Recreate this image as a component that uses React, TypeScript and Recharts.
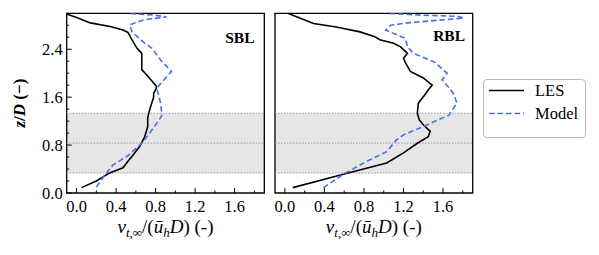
import React from 'react';
import { ScatterChart, Scatter, XAxis, YAxis, ReferenceArea, ReferenceLine } from 'recharts';

// ---- data (z/D heights and nu values) ----
const zLesSBL = [0.09, 0.2, 0.34, 0.42, 0.53, 0.61, 0.78, 0.94, 1.11, 1.25, 1.33, 1.39, 1.5, 1.6, 1.67, 1.72, 1.78, 1.97, 2.06, 2.17, 2.33, 2.42, 2.56, 2.68, 2.72, 2.78, 2.84, 2.93, 2.99];
const vLesSBL = [0.05, 0.2, 0.34, 0.47, 0.52, 0.56, 0.64, 0.69, 0.72, 0.72, 0.73, 0.74, 0.76, 0.78, 0.78, 0.8, 0.81, 0.71, 0.66, 0.66, 0.66, 0.61, 0.56, 0.52, 0.47, 0.34, 0.14, 0.0, -0.1];

const zModSBL = [0.1, 0.31, 0.47, 0.61, 0.83, 1.0, 1.28, 1.36, 1.5, 1.64, 1.75, 2.03, 2.22, 2.42, 2.5, 2.69, 2.81, 2.89, 2.94, 2.97, 3.0];
const vModSBL = [0.2, 0.29, 0.37, 0.51, 0.66, 0.74, 0.86, 0.86, 0.85, 0.83, 0.81, 0.96, 0.85, 0.76, 0.69, 0.56, 0.54, 0.68, 0.91, 0.78, 0.52];

const zLesRBL = [0.09, 0.33, 0.5, 0.67, 0.83, 0.94, 1.03, 1.14, 1.22, 1.33, 1.5, 1.65, 1.72, 1.8, 1.92, 2.03, 2.17, 2.25, 2.33, 2.44, 2.5, 2.56, 2.61, 2.69, 2.77, 2.83, 2.92, 3.0];
const vLesRBL = [0.08, 0.63, 1.03, 1.2, 1.34, 1.45, 1.47, 1.4, 1.36, 1.34, 1.35, 1.42, 1.45, 1.49, 1.4, 1.27, 1.22, 1.2, 1.24, 1.17, 1.1, 0.96, 0.91, 0.76, 0.52, 0.29, 0.15, 0.03];

const zModRBL = [0.09, 0.33, 0.53, 0.69, 0.89, 0.97, 1.11, 1.3, 1.5, 1.64, 1.72, 1.89, 2.0, 2.19, 2.33, 2.44, 2.58, 2.72, 2.8, 2.84, 2.92, 2.95, 2.97, 3.0];
const vModRBL = [0.39, 0.61, 0.83, 1.03, 1.13, 1.2, 1.4, 1.66, 1.74, 1.71, 1.68, 1.59, 1.64, 1.51, 1.3, 1.24, 1.22, 1.02, 1.07, 1.24, 1.81, 1.75, 1.37, 1.05];

const xTicks = [0, 0.2, 0.4, 0.6, 0.8, 1.0, 1.2, 1.4, 1.6, 1.8];
const xMajor = [0, 0.4, 0.8, 1.2, 1.6];
const yTicks = [0, 0.2, 0.4, 0.6, 0.8, 1.0, 1.2, 1.4, 1.6, 1.8, 2.0, 2.2, 2.4, 2.6, 2.8, 3.0];
const yMajor = [0, 0.8, 1.6, 2.4];
const rotorBottom = 0.333;
const hubHeight = 0.833;
const rotorTop = 1.333;
const xDomain: [number, number] = [-0.1, 1.9];
const yDomain: [number, number] = [0, 3.0];

const FONT = '"Liberation Serif", "Times New Roman", serif';
const BLUE = '#4a6fe3';

const toPts = (z: number[], v: number[]) => z.map((zz, i) => ({ v: v[i], z: zz }));

const isMajor = (val: number, majors: number[]) => majors.some((m) => Math.abs(m - val) < 1e-6);
const MAJ = 5;
const MIN = 2.5;

const BottomTick = (showLabels: boolean) => (props: any) => {
  const { x, y, payload } = props;
  const major = isMajor(payload.value, xMajor);
  return (
    <g>
      <line x1={x} x2={x} y1={y} y2={y - (major ? MAJ : MIN)} stroke="#000" strokeWidth={1} />
      {showLabels && major && (
        <text x={x} y={y + 19} textAnchor="middle" fontSize={16.5} fontFamily={FONT} fill="#000">
          {payload.value.toFixed(1)}
        </text>
      )}
    </g>
  );
};
const TopTick = (props: any) => {
  const { x, y, payload } = props;
  const major = isMajor(payload.value, xMajor);
  return <line x1={x} x2={x} y1={y} y2={y + (major ? MAJ : MIN)} stroke="#000" strokeWidth={1} />;
};
const LeftTick = (showLabels: boolean) => (props: any) => {
  const { x, y, payload } = props;
  const major = isMajor(payload.value, yMajor);
  return (
    <g>
      <line x1={x} x2={x + (major ? MAJ : MIN)} y1={y} y2={y} stroke="#000" strokeWidth={1} />
      {showLabels && major && (
        <text x={x - 4} y={y + 5.5} textAnchor="end" fontSize={16.5} fontFamily={FONT} fill="#000">
          {payload.value.toFixed(1)}
        </text>
      )}
    </g>
  );
};
const RightTick = (props: any) => {
  const { x, y, payload } = props;
  const major = isMajor(payload.value, yMajor);
  return <line x1={x} x2={x - (major ? MAJ : MIN)} y1={y} y2={y} stroke="#000" strokeWidth={1} />;
};

const XLabel = (props: any) => {
  const vb = props.viewBox || {};
  const cx = vb.x + vb.width / 2;
  const y = vb.y + 40;
  return (
    <text x={cx} y={y} textAnchor="middle" fontSize={19} fontFamily={FONT} fill="#000">
      <tspan fontStyle="italic">ν</tspan>
      <tspan fontStyle="italic" fontSize={13} dy={4}>t,∞</tspan>
      <tspan dy={-4}>/(</tspan>
      <tspan fontStyle="italic">ū</tspan>
      <tspan fontStyle="italic" fontSize={13} dy={4}>h</tspan>
      <tspan fontStyle="italic" dy={-4}>D</tspan>
      <tspan>) (-)</tspan>
    </text>
  );
};

const YLabel = (props: any) => {
  const vb = props.viewBox || {};
  const cy = vb.y + vb.height / 2;
  const cx = 19;
  return (
    <text x={cx} y={cy} textAnchor="middle" fontSize={17} fontFamily={FONT} fontWeight="bold" fill="#000" transform={`rotate(-90 ${cx} ${cy})`} dy={6}>
      <tspan fontStyle="italic">z</tspan>
      <tspan>/</tspan>
      <tspan fontStyle="italic">D</tspan>
      <tspan> (−)</tspan>
    </text>
  );
};

type PanelProps = {
  width: number;
  margin: { top: number; right: number; bottom: number; left: number };
  leftAxisWidth: number;
  showYLabels: boolean;
  les: { v: number; z: number }[];
  model: { v: number; z: number }[];
};

const Panel = ({ width, margin, leftAxisWidth, showYLabels, les, model }: PanelProps) => (
  <ScatterChart width={width} height={255} margin={margin}>
    <XAxis
      xAxisId="b"
      type="number"
      dataKey="v"
      domain={xDomain}
      allowDataOverflow
      ticks={xTicks}
      interval={0}
      tickSize={0}
      tickMargin={0}
      tickLine={false}
      axisLine={false}
      tick={BottomTick(true)}
      height={40}
      label={{ content: (p: any) => <XLabel {...p} /> }}
    />
    <XAxis
      xAxisId="t"
      orientation="top"
      type="number"
      dataKey="v"
      domain={xDomain}
      allowDataOverflow
      ticks={xTicks}
      interval={0}
      tickSize={0}
      tickMargin={0}
      tickLine={false}
      axisLine={false}
      tick={TopTick}
      height={0}
    />
    <YAxis
      yAxisId="l"
      type="number"
      dataKey="z"
      domain={yDomain}
      allowDataOverflow
      ticks={yTicks}
      interval={0}
      tickSize={0}
      tickMargin={0}
      tickLine={false}
      axisLine={false}
      tick={LeftTick(showYLabels)}
      width={leftAxisWidth}
      label={showYLabels ? { content: (p: any) => <YLabel {...p} /> } : undefined}
    />
    <YAxis
      yAxisId="r"
      orientation="right"
      type="number"
      dataKey="z"
      domain={yDomain}
      allowDataOverflow
      ticks={yTicks}
      interval={0}
      tickSize={0}
      tickMargin={0}
      tickLine={false}
      axisLine={false}
      tick={RightTick}
      width={0}
    />
    <ReferenceArea xAxisId="b" yAxisId="l" y1={rotorBottom} y2={rotorTop} fill="#e6e6e6" fillOpacity={1} stroke="none" />
    <ReferenceLine xAxisId="b" yAxisId="l" y={rotorBottom} stroke="#9a9a9a" strokeDasharray="1.5 1.5" strokeWidth={1} />
    <ReferenceLine xAxisId="b" yAxisId="l" y={hubHeight} stroke="#9a9a9a" strokeDasharray="1.5 1.5" strokeWidth={1} />
    <ReferenceLine xAxisId="b" yAxisId="l" y={rotorTop} stroke="#9a9a9a" strokeDasharray="1.5 1.5" strokeWidth={1} />
    <Scatter
      xAxisId="b"
      yAxisId="l"
      name="LES"
      data={les}
      line={{ stroke: '#000', strokeWidth: 1.6 }}
      lineType="joint"
      shape={() => <g />}
      isAnimationActive={false}
    />
    <Scatter
      xAxisId="b"
      yAxisId="l"
      name="Model"
      data={model}
      line={{ stroke: BLUE, strokeWidth: 1.6, strokeDasharray: '5.5 3' }}
      lineType="joint"
      shape={() => <g />}
      isAnimationActive={false}
    />
    <ReferenceArea
      xAxisId="b"
      yAxisId="l"
      x1={xDomain[0]}
      x2={xDomain[1]}
      y1={yDomain[0]}
      y2={yDomain[1]}
      fill="none"
      fillOpacity={0}
      stroke="#000"
      strokeWidth={1.3}
      ifOverflow="visible"
    />
  </ScatterChart>
);

export default function App() {
  return (
    <div style={{ position: 'absolute', left: 0, top: 0, width: 599, height: 255, background: '#fff', fontFamily: FONT }}>
      <div style={{ position: 'absolute', left: 0, top: 0 }}>
        <Panel
          width={270}
          margin={{ top: 13.3, right: 5.7, bottom: 22, left: 26.7 }}
          leftAxisWidth={40}
          showYLabels={true}
          les={toPts(zLesSBL, vLesSBL)}
          model={toPts(zModSBL, vModSBL)}
        />
      </div>
      <div style={{ position: 'absolute', left: 270, top: 0 }}>
        <Panel
          width={210}
          margin={{ top: 13.3, right: 7.3, bottom: 22, left: 5 }}
          leftAxisWidth={0}
          showYLabels={false}
          les={toPts(zLesRBL, vLesRBL)}
          model={toPts(zModRBL, vModRBL)}
        />
      </div>
      <svg style={{ position: 'absolute', left: 0, top: 0, pointerEvents: 'none' }} width={599} height={255}>
        <text x={254.5} y={42.5} textAnchor="end" fontSize={15.5} fontWeight="bold" fontFamily={FONT} fill="#000">SBL</text>
        <text x={465} y={41} textAnchor="end" fontSize={15.5} fontWeight="bold" fontFamily={FONT} fill="#000">RBL</text>
      </svg>
      <div
        style={{
          position: 'absolute',
          left: 482.5,
          top: 78.5,
          width: 103,
          height: 59,
          border: '1px solid #bdbdbd',
          borderRadius: 4,
          boxSizing: 'border-box',
          background: '#fff',
        }}
      >
        <svg width={101} height={57} style={{ position: 'absolute', left: 0, top: 0 }}>
          <line x1={5} x2={40} y1={10.5} y2={10.5} stroke="#000" strokeWidth={1.6} />
          <line x1={5} x2={40} y1={33.5} y2={33.5} stroke={BLUE} strokeWidth={1.6} strokeDasharray="5.5 3" />
          <text x={51} y={16} fontSize={16.5} fontFamily={FONT} fill="#000">LES</text>
          <text x={51} y={39} fontSize={16.5} fontFamily={FONT} fill="#000">Model</text>
        </svg>
      </div>
    </div>
  );
}
